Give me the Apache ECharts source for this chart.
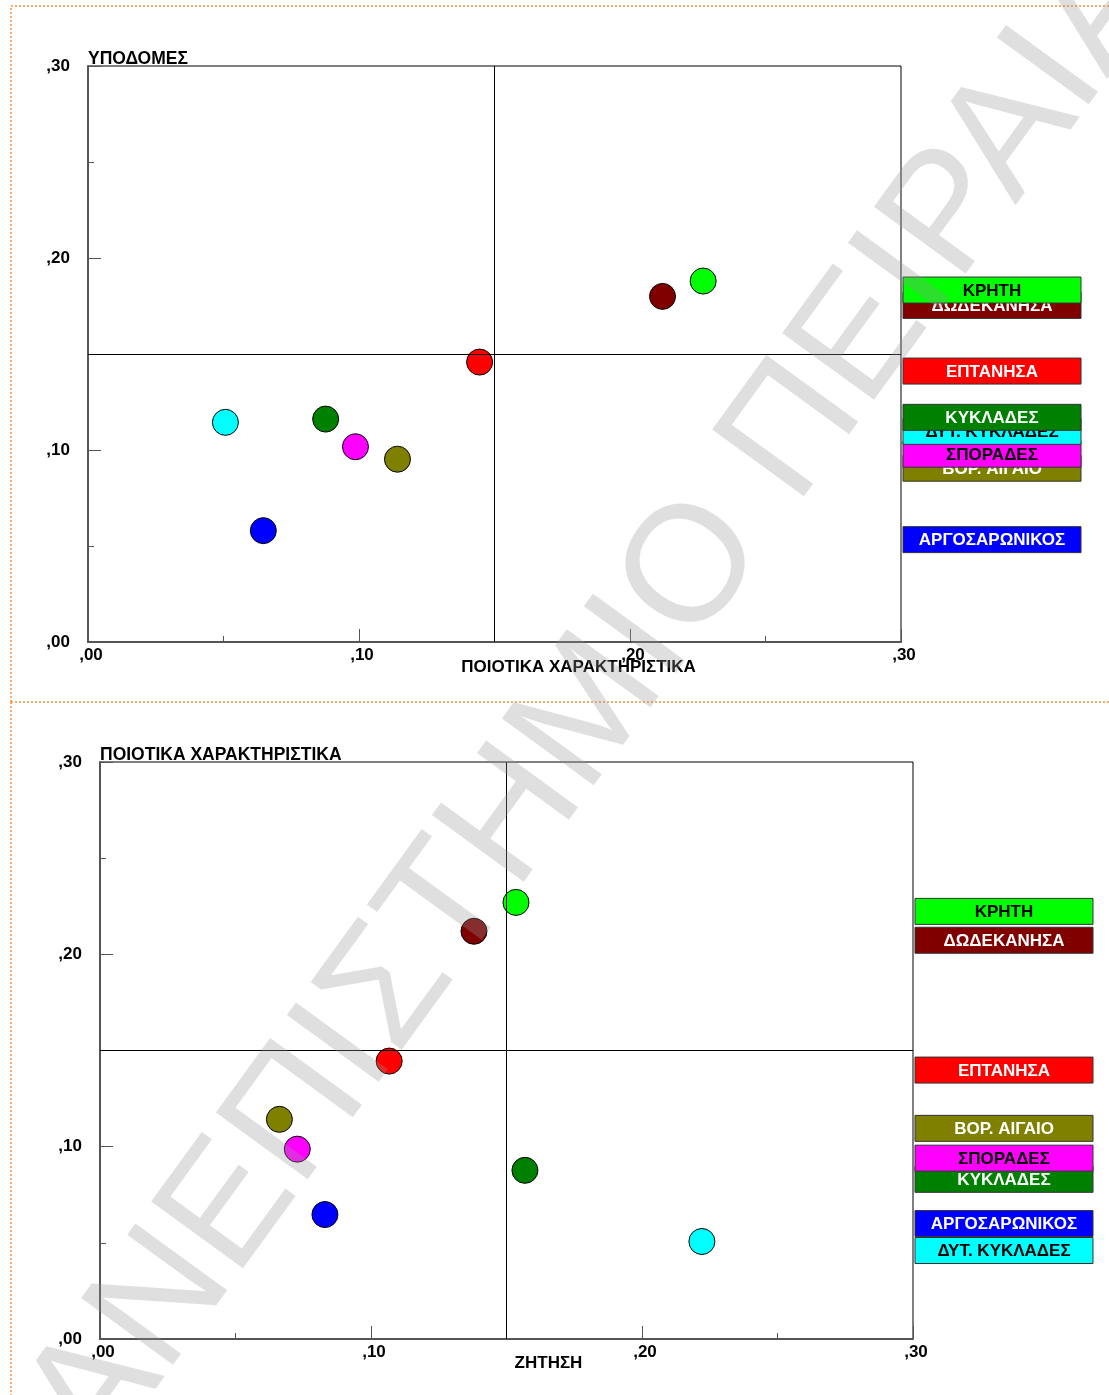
<!DOCTYPE html>
<html>
<head>
<meta charset="utf-8">
<script src="https://cdn.jsdelivr.net/npm/echarts@6/dist/echarts.min.js"></script>
<style>
html,body{margin:0;padding:0;background:#fff;}
#c{width:1109px;height:1395px;}
</style>
</head>
<body>
<div id="c"></div>
<script>
// ---- data ----
const regions = ['ΚΡΗΤΗ','ΔΩΔΕΚΑΝΗΣΑ','ΕΠΤΑΝΗΣΑ','ΚΥΚΛΑΔΕΣ','ΔΥΤ. ΚΥΚΛΑΔΕΣ','ΣΠΟΡΑΔΕΣ','ΒΟΡ. ΑΙΓΑΙΟ','ΑΡΓΟΣΑΡΩΝΙΚΟΣ'];
const poiotika = [0.227, 0.212, 0.1445, 0.0877, 0.0507, 0.0987, 0.1142, 0.0647];
const ypodomes = [0.188, 0.180, 0.1458, 0.1161, 0.1144, 0.1017, 0.0952, 0.058];
const zitisi   = [0.1535, 0.138, 0.1067, 0.1568, 0.2221, 0.0728, 0.0662, 0.083];
const regionColors = ['#00ff00','#800000','#ff0000','#008000','#00ffff','#ff00ff','#808000','#0000ff'];
const labelTextColors = ['#000','#fff','#fff','#fff','#000','#000','#fff','#fff'];
const axisMin = 0, axisMax = 0.30, axisStep = 0.10;
const crossValue = 0.15;
const chart1Titles = {x: 'ΠΟΙΟΤΙΚΑ ΧΑΡΑΚΤΗΡΙΣΤΙΚΑ', y: 'ΥΠΟΔΟΜΕΣ'};
const chart2Titles = {x: 'ΖΗΤΗΣΗ', y: 'ΠΟΙΟΤΙΚΑ ΧΑΡΑΚΤΗΡΙΣΤΙΚΑ'};
const watermark = 'ΠΑΝΕΠΙΣΤΗΜΙΟ ΠΕΙΡΑΙΑ';

const FONT = '"Liberation Sans", Arial, sans-serif';
const fmt = v => ',' + String(Math.round(v * 100)).padStart(2, '0');

function makeXAxis(gridIndex, name, shift, gap) {
  return {
    gridIndex, type: 'value', min: axisMin, max: axisMax, interval: axisStep,
    name, nameLocation: 'middle', nameGap: gap, nameMoveOverlap: false,
    nameTextStyle: {fontFamily: FONT, fontWeight: 'bold', fontSize: 17, color: '#000', padding: [0, 0, 0, shift]},
    axisLine: {show: true, onZero: false, lineStyle: {color: '#555', width: 2}},
    axisTick: {show: true, inside: true, length: 13, lineStyle: {color: '#555', width: 1}},
    minorTick: {show: true, splitNumber: 2, length: 6, lineStyle: {color: '#555', width: 1}},
    splitLine: {show: false}, minorSplitLine: {show: false},
    axisLabel: {formatter: fmt, fontFamily: FONT, fontWeight: 'bold', fontSize: 17, color: '#000', margin: 5, padding: [0, 0, 0, 6]}
  };
}
function makeYAxis(gridIndex, name) {
  return {
    gridIndex, type: 'value', min: axisMin, max: axisMax, interval: axisStep,
    name, nameLocation: 'end', nameGap: 0,
    nameTextStyle: {fontFamily: FONT, fontWeight: 'bold', fontSize: 17.5, color: '#000', align: 'left', verticalAlign: 'bottom', padding: [0, 0, -2, 0]},
    axisLine: {show: true, onZero: false, lineStyle: {color: '#555', width: 2}},
    axisTick: {show: true, inside: true, length: 13, lineStyle: {color: '#555', width: 1}},
    minorTick: {show: true, splitNumber: 2, length: 6, lineStyle: {color: '#555', width: 1}},
    splitLine: {show: false}, minorSplitLine: {show: false},
    axisLabel: {formatter: fmt, fontFamily: FONT, fontWeight: 'bold', fontSize: 17, color: '#000', margin: 18, padding: [0, 0, 8, 0]}
  };
}

function pointData(xs, ys) {
  return regions.map((r, i) => ({value: [xs[i], ys[i], i], itemStyle: {color: regionColors[i]}}));
}

function scatterSeries(idx, xs, ys) {
  return {
    type: 'scatter', xAxisIndex: idx, yAxisIndex: idx,
    symbolSize: 26, z: 3,
    itemStyle: {borderColor: '#000', borderWidth: 1, opacity: 1},
    data: pointData(xs, ys),
    markLine: {
      silent: true, symbol: ['none', 'none'], label: {show: false},
      lineStyle: {color: '#000', width: 1, type: 'solid'},
      data: [{xAxis: crossValue}, {yAxis: crossValue}]
    }
  };
}

function labelSeries(idx, xs, ys) {
  return {
    type: 'custom', xAxisIndex: idx, yAxisIndex: idx, clip: false, silent: true, z: 4,
    data: regions.map((r, i) => [xs[i], ys[i], i]),
    renderItem: function (params, api) {
      const i = api.value(2);
      const H = 26, W = 178;
      const py = api.coord([0, ys[i]])[1];
      let top = py - 4;
      // push a label up when it sits almost exactly on top of a lower one
      for (let j = 0; j < ys.length; j++) {
        if (j === i) continue;
        const pj = api.coord([0, ys[j]])[1];
        if (pj > py && pj - py < 13) top = pj - 4 - 14;
      }
      const left = api.coord([axisMax, 0])[0] + 2;
      const rank = Math.round(ys[i] * 10000);
      return {
        type: 'group',
        children: [
          {type: 'rect', z2: rank * 2, shape: {x: left, y: top, width: W, height: H},
           style: {fill: regionColors[i], stroke: '#333', lineWidth: 1}},
          {type: 'text', z2: rank * 2 + 1,
           style: {text: regions[i], x: left + W / 2, y: top + H / 2 + 1, align: 'center', verticalAlign: 'middle',
                   font: 'bold 17px ' + FONT, fill: labelTextColors[i]}}
        ]
      };
    }
  };
}

const orange = '#f7913d';
const dash = [2, 2];
const chart = echarts.init(document.getElementById('c'), null, {renderer: 'canvas'});
chart.setOption({
  animation: false,
  backgroundColor: '#fff',
  grid: [
    {left: 88, top: 66, width: 813, height: 576, show: true, borderColor: '#000', borderWidth: 1, backgroundColor: 'transparent'},
    {left: 100, top: 762, width: 813, height: 577, show: true, borderColor: '#000', borderWidth: 1, backgroundColor: 'transparent'}
  ],
  xAxis: [makeXAxis(0, chart1Titles.x, 168, 17), makeXAxis(1, chart2Titles.x, 84, 16)],
  yAxis: [makeYAxis(0, chart1Titles.y), makeYAxis(1, chart2Titles.y)],
  series: [
    scatterSeries(0, poiotika, ypodomes),
    labelSeries(0, poiotika, ypodomes),
    scatterSeries(1, zitisi, poiotika),
    labelSeries(1, zitisi, poiotika)
  ],
  graphic: [
    {type: 'polyline', silent: true, z: 0, shape: {points: [[11, 702], [11, 6], [1109, 6]]}, style: {stroke: orange, lineWidth: 1.5, lineDash: dash, fill: null}},
    {type: 'line', silent: true, z: 0, shape: {x1: 11, y1: 702, x2: 1109, y2: 702}, style: {stroke: orange, lineWidth: 1.5, lineDash: dash}},
    {type: 'line', silent: true, z: 0, shape: {x1: 11, y1: 702, x2: 11, y2: 1395}, style: {stroke: orange, lineWidth: 1.5, lineDash: dash}},
    {type: 'text', silent: true, z: 100, x: 564, y: 749, rotation: 54 * Math.PI / 180,
     style: {text: watermark, font: '165px ' + FONT, fill: 'rgba(150,150,150,0.3)', align: 'center', verticalAlign: 'middle'}}
  ]
});
</script>
</body>
</html>
